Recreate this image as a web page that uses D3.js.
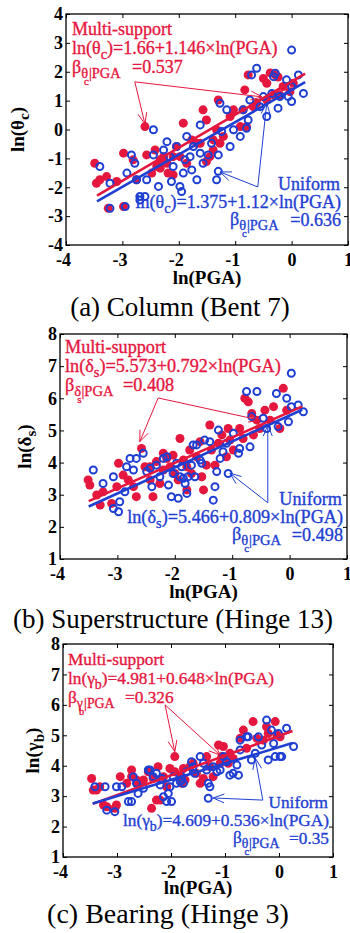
<!DOCTYPE html>
<html>
<head>
<meta charset="utf-8">
<script src="https://cdn.jsdelivr.net/npm/d3@7/dist/d3.min.js"></script>
<style>
  body { margin: 0; background: #fff; }
  svg { display: block; }
</style>
</head>
<body>
<div id="chart"></div>
<script>
// tick values
const xTicks = [-4, -3, -2, -1, 0, 1];
const yTicksA = [-4, -3, -2, -1, 0, 1, 2, 3, 4];
const yTicksB = [1, 2, 3, 4, 5, 6, 7, 8];
const yTicksC = [1, 2, 3, 4, 5, 6, 7, 8];

// (a) Column (Bent 7) : [ln(PGA), ln(theta_c)]
const multiA = [[-3.49,-1.17],[-3.46,-1.86],[-3.40,-1.74],[-3.28,-1.63],[-3.25,-2.73],[-2.98,-2.67],[-2.98,-0.82],[-3.10,-1.80],[-2.81,-1.05],[-2.75,-1.74],[-2.60,0.10],[-2.48,-1.51],[-2.42,-0.71],[-2.33,-1.34],[-2.27,-0.94],[-2.21,-1.17],[-2.19,-1.51],[-2.10,-0.94],[-2.04,-0.59],[-1.98,-0.94],[-1.92,0.22],[-1.86,-1.17],[-1.77,-0.36],[-1.68,-0.48],[-1.57,0.68],[-1.51,0.33],[-1.45,-0.94],[-1.39,-0.36],[-1.39,-0.71],[-1.33,-0.01],[-1.30,1.02],[-1.27,-0.48],[-1.21,-0.24],[-1.09,0.45],[-1.03,0.68],[-0.91,0.10],[-0.86,0.68],[-0.83,1.37],[-0.80,0.10],[-0.77,1.89],[-0.68,0.79],[-0.62,0.91],[-0.50,1.77],[-0.44,1.02],[-0.44,1.60],[-0.38,1.96],[-0.29,1.89],[-0.32,1.20],[-0.24,1.82],[-0.21,1.20],[-0.15,1.49],[-0.03,1.31],[0.03,1.60],[-1.51,-1.11],[-2.10,-1.57],[-2.33,-1.05],[-2.39,-1.28],[-2.57,-0.88],[-1.62,-0.48]];
const uniformA = [[-3.40,-1.28],[-3.22,-1.86],[-3.22,-2.73],[-2.95,-2.67],[-2.92,-1.51],[-2.84,-0.88],[-2.78,-1.17],[-2.75,-1.74],[-2.69,-2.32],[-2.57,-1.74],[-2.45,-0.01],[-2.45,-0.88],[-2.36,-1.97],[-2.27,-0.71],[-2.21,-0.42],[-2.16,-0.94],[-2.13,-1.80],[-2.10,-1.28],[-2.04,-0.59],[-1.98,-1.97],[-1.95,-2.15],[-1.92,-1.51],[-1.89,-1.05],[-1.86,-0.24],[-1.80,-0.94],[-1.77,-1.40],[-1.74,-0.59],[-1.68,-1.74],[-1.62,0.16],[-1.62,-0.82],[-1.57,-1.17],[-1.48,-0.88],[-1.42,-0.48],[-1.33,-1.74],[-1.30,-0.88],[-1.27,0.91],[-1.24,-0.07],[-1.15,0.68],[-1.09,-0.59],[-1.03,-0.01],[-0.91,-0.24],[-0.86,0.68],[-0.80,0.04],[-0.77,0.33],[-0.74,1.02],[-0.71,1.89],[-0.62,2.12],[-0.56,0.79],[-0.50,1.14],[-0.44,0.45],[-0.35,1.25],[-0.32,1.83],[-0.29,1.95],[-0.24,0.74],[-0.21,1.14],[-0.09,1.72],[-0.06,1.14],[0.00,1.49],[0.00,0.97],[0.00,2.75],[0.12,1.89],[0.21,1.25],[-2.69,-2.44],[-2.60,-2.32],[-1.30,-1.45]];
const fitMultiA = [1.66, 1.146];
const fitUniformA = [1.375, 1.12];
const fitRangeA = [-3.45, 0.24];
const betaA = [0.537, 0.636];

// (b) Superstructure (Hinge 13) : [ln(PGA), ln(delta_s)]
const multiB = [[-3.51,3.46],[-3.48,3.30],[-3.36,2.99],[-3.30,2.68],[-3.25,3.09],[-3.10,2.73],[-3.01,3.25],[-2.98,3.98],[-2.90,3.61],[-2.81,3.46],[-2.72,3.25],[-2.67,2.94],[-2.58,4.44],[-2.52,3.87],[-2.43,3.46],[-2.38,2.94],[-2.32,4.03],[-2.26,3.35],[-2.20,3.77],[-2.14,4.13],[-2.08,3.87],[-2.03,4.23],[-2.00,3.66],[-1.94,3.46],[-1.91,4.75],[-1.85,4.08],[-1.79,3.87],[-1.74,4.39],[-1.71,3.66],[-1.62,4.18],[-1.56,4.65],[-1.53,3.56],[-1.50,3.15],[-1.45,3.92],[-1.39,5.17],[-1.36,4.39],[-1.30,3.92],[-1.24,4.60],[-1.18,4.86],[-1.10,4.18],[-1.07,5.06],[-1.04,4.70],[-0.98,4.39],[-0.87,5.06],[-0.81,4.75],[-0.78,6.00],[-0.72,5.89],[-0.66,5.53],[-0.63,4.86],[-0.57,5.32],[-0.52,5.06],[-0.43,5.63],[-0.34,5.32],[-0.28,5.74],[-0.17,5.06],[-0.11,6.31],[-0.05,5.63],[-1.79,3.15],[-2.20,4.29],[-2.43,3.87]];
const uniformB = [[-3.42,3.77],[-3.25,3.35],[-3.07,3.56],[-3.07,2.57],[-2.98,2.47],[-2.96,2.78],[-2.87,3.09],[-2.84,3.87],[-2.78,4.13],[-2.72,3.77],[-2.67,4.13],[-2.55,4.29],[-2.49,3.72],[-2.43,3.82],[-2.40,3.25],[-2.32,3.92],[-2.26,3.56],[-2.20,4.13],[-2.14,4.18],[-2.11,3.30],[-2.06,2.94],[-2.03,3.66],[-1.97,3.98],[-1.94,2.89],[-1.91,3.56],[-1.88,3.87],[-1.85,3.51],[-1.82,3.35],[-1.79,3.04],[-1.77,3.56],[-1.71,3.92],[-1.68,4.55],[-1.65,3.56],[-1.62,4.55],[-1.56,4.08],[-1.53,3.98],[-1.48,4.70],[-1.39,4.65],[-1.33,2.83],[-1.30,3.25],[-1.27,3.72],[-1.24,5.01],[-1.21,4.13],[-1.16,4.34],[-1.10,4.60],[-1.07,3.66],[-0.98,4.91],[-0.89,4.29],[-0.87,4.44],[-0.75,6.21],[-0.69,4.49],[-0.66,5.43],[-0.57,6.21],[-0.46,5.38],[-0.40,5.06],[-0.23,6.15],[-0.20,5.12],[-0.05,6.00],[-0.02,5.27],[0.03,6.78],[0.03,5.74],[0.15,5.79],[0.24,5.58]];
const fitMultiB = [5.573, 0.792];
const fitUniformB = [5.466, 0.809];
const fitRangeB = [-3.5, 0.22];
const betaB = [0.408, 0.498];

// (c) Bearing (Hinge 3) : [ln(PGA), ln(gamma_b)]
const multiC = [[-3.47,3.58],[-3.44,3.20],[-3.38,3.20],[-3.32,3.31],[-3.25,2.71],[-3.19,2.65],[-3.04,2.60],[-3.01,2.71],[-2.94,3.64],[-2.82,3.42],[-2.73,3.86],[-2.64,3.53],[-2.61,3.37],[-2.51,3.53],[-2.42,3.80],[-2.36,2.60],[-2.33,3.58],[-2.27,2.87],[-2.24,3.97],[-2.14,3.64],[-2.08,3.31],[-2.02,3.91],[-1.93,4.30],[-1.93,3.80],[-1.83,3.64],[-1.77,3.91],[-1.74,3.53],[-1.65,3.97],[-1.59,4.08],[-1.53,3.75],[-1.46,3.42],[-1.40,3.58],[-1.34,4.30],[-1.28,3.97],[-1.22,3.64],[-1.12,4.68],[-1.09,4.08],[-1.06,4.30],[-1.03,4.63],[-0.94,4.08],[-0.91,4.41],[-0.85,4.24],[-0.72,4.90],[-0.66,5.17],[-0.60,4.57],[-0.48,5.45],[-0.41,4.90],[-0.29,4.84],[-0.23,5.28],[-0.20,5.06],[-0.07,5.45],[-0.04,5.01],[0.02,4.95],[-2.20,2.87],[-1.80,3.42],[-2.73,3.64]];
const uniformC = [[-3.41,3.31],[-3.22,3.31],[-3.19,2.54],[-3.04,2.49],[-3.01,3.31],[-2.91,3.31],[-2.79,2.82],[-2.73,2.82],[-2.70,3.64],[-2.64,3.42],[-2.61,3.09],[-2.51,3.26],[-2.42,3.86],[-2.39,3.86],[-2.33,3.64],[-2.27,3.75],[-2.20,3.37],[-2.17,3.58],[-2.14,2.98],[-2.08,2.82],[-2.05,3.09],[-2.02,3.31],[-1.99,2.82],[-1.96,3.64],[-1.90,3.42],[-1.83,3.48],[-1.80,3.53],[-1.77,3.42],[-1.71,3.80],[-1.62,4.13],[-1.59,3.97],[-1.56,3.75],[-1.46,4.30],[-1.40,4.08],[-1.34,3.86],[-1.31,3.42],[-1.28,3.31],[-1.22,3.97],[-1.15,3.80],[-1.09,3.86],[-1.03,4.30],[-0.97,4.13],[-0.91,3.69],[-0.85,3.75],[-0.78,4.02],[-0.75,3.69],[-0.72,4.52],[-0.72,4.84],[-0.60,4.95],[-0.57,4.95],[-0.51,4.19],[-0.44,4.41],[-0.38,4.95],[-0.32,4.68],[-0.23,5.50],[-0.20,4.19],[-0.14,5.17],[-0.10,4.73],[-0.07,4.30],[-0.01,5.06],[0.02,4.30],[0.05,4.30],[0.14,5.23],[0.27,4.63],[-1.31,2.93]];
const fitMultiC = [4.981, 0.648];
const fitUniformC = [4.609, 0.536];
const fitRangeC = [-3.45, 0.25];
const betaC = [0.326, 0.35];

const RED = '#e5173f';
const BLUE = '#1f3fd2';
const SERIF = '"Liberation Serif", "Times New Roman", serif';

const svg = d3
  .select('#chart')
  .append('svg')
  .attr('width', 350)
  .attr('height', 933)
  .style('font-family', SERIF);

// text made of pieces: level 0 normal, 1 subscript, 2 sub-subscript
function richText(g, x, y, parts, size, color, anchor) {
  const t = g
    .append('text')
    .attr('x', x)
    .attr('y', y)
    .attr('fill', color)
    .attr('text-anchor', anchor || 'start')
    .style('font-size', size + 'px');
  let level = 0;
  parts.forEach((p) => {
    const [txt, lv, dx] = p;
    const shift = { 0: 0, 1: 5, 2: 12 };
    const sz = { 0: size, 1: size * 0.8, 2: size * 0.6 };
    t.append('tspan')
      .attr('dy', shift[lv] - shift[level])
      .attr('dx', dx || 0)
      .style('font-size', sz[lv] + 'px')
      .text(txt);
    level = lv;
  });
  return t;
}

// annotation text gets a thin outline so it reads as heavy as the scan
function heavy(t, color) {
  return t.attr('stroke', color).attr('stroke-width', 0.35);
}

function arrow(g, x, y, from, to, color) {
  const x0 = x(from[0]), y0 = y(from[1]);
  const x1 = x(to[0]), y1 = y(to[1]);
  const ang = Math.atan2(y1 - y0, x1 - x0);
  const len = 12, spread = 0.38;
  const path = d3.path();
  path.moveTo(x0, y0);
  path.lineTo(x1, y1);
  path.moveTo(x1 - len * Math.cos(ang - spread), y1 - len * Math.sin(ang - spread));
  path.lineTo(x1, y1);
  path.lineTo(x1 - len * Math.cos(ang + spread), y1 - len * Math.sin(ang + spread));
  g.append('path').attr('d', path.toString()).attr('fill', 'none').attr('stroke', color).attr('stroke-width', 1);
}

function drawPanel(p) {
  const x = d3.scaleLinear().domain([-4, 1]).range([p.box.left, p.box.right]);
  const y = d3.scaleLinear().domain(p.yDomain).range([p.box.bottom, p.box.top]);
  const g = svg.append('g');

  // markers
  g.selectAll('circle.multi')
    .data(p.multi)
    .join('circle')
    .attr('class', 'multi')
    .attr('cx', (d) => x(d[0]))
    .attr('cy', (d) => y(d[1]))
    .attr('r', 4.5)
    .attr('fill', RED);

  g.selectAll('circle.uniform')
    .data(p.uniform)
    .join('circle')
    .attr('class', 'uniform')
    .attr('cx', (d) => x(d[0]))
    .attr('cy', (d) => y(d[1]))
    .attr('r', 3.5)
    .attr('fill', 'none')
    .attr('stroke', BLUE)
    .attr('stroke-width', 2);

  // regression lines
  [[p.fitMulti, RED], [p.fitUniform, BLUE]].forEach(([c, col]) => {
    const line = d3.line().x((d) => x(d)).y((d) => y(c[0] + c[1] * d));
    g.append('path').datum(p.fitRange).attr('d', line).attr('fill', 'none').attr('stroke', col).attr('stroke-width', 2.6);
  });

  // axes with inward ticks
  const fmt = (d) => (d < 0 ? '-' + Math.abs(d) : String(d));
  const bottom = g.append('g').attr('transform', `translate(0,${p.box.bottom})`)
    .call(d3.axisBottom(x).tickValues(xTicks).tickSize(-4).tickSizeOuter(0).tickPadding(8).tickFormat(fmt));
  bottom.selectAll('text').attr('text-anchor', 'end').attr('dx', '0.25em').attr('dy', '0.72em');
  const left = g.append('g').attr('transform', `translate(${p.box.left},0)`)
    .call(d3.axisLeft(y).tickValues(p.yTicks).tickSize(-4).tickSizeOuter(0).tickPadding(3).tickFormat(fmt));
  g.append('g').attr('transform', `translate(0,${p.box.top})`)
    .call(d3.axisTop(x).tickValues(xTicks).tickSize(-4).tickSizeOuter(0).tickFormat(''));
  g.append('g').attr('transform', `translate(${p.box.right},0)`)
    .call(d3.axisRight(y).tickValues(p.yTicks).tickSize(-4).tickSizeOuter(0).tickFormat(''));
  g.selectAll('.domain').remove();
  g.selectAll('.tick line').attr('stroke', '#000').attr('stroke-width', 1);
  [bottom, left].forEach((a) =>
    a.selectAll('text').attr('fill', '#000').style('font-family', SERIF).style('font-size', '18px').style('font-weight', 'bold')
  );

  g.append('rect')
    .attr('x', p.box.left)
    .attr('y', p.box.top)
    .attr('width', p.box.right - p.box.left)
    .attr('height', p.box.bottom - p.box.top)
    .attr('fill', 'none')
    .attr('stroke', '#000')
    .attr('stroke-width', 1.3);

  // axis titles
  g.append('text')
    .attr('x', (p.box.left + p.box.right) / 2)
    .attr('y', p.box.bottom + p.xTitleDy)
    .attr('text-anchor', 'middle')
    .style('font-size', '19px')
    .style('font-weight', 'bold')
    .text('ln(PGA)');
  richText(g, 0, 0, [['ln(' + p.sym, 0], [p.sub, 1], [')', 0]], 19, '#000', 'middle')
    .style('font-weight', 'bold')
    .attr('transform', `translate(${p.yTitleX},${(p.box.top + p.box.bottom) / 2}) rotate(-90)`);

  // multi-support annotation
  const a = p.ann, fs = p.annSize;
  heavy(richText(g, a.mx, a.my, [['Multi-support', 0]], fs, RED), RED);
  heavy(richText(g, a.mx, a.my + 19, [['ln(' + p.sym, 0], [p.sub, 1], [`)=${p.fitMulti[0]}+${p.fitMulti[1]}×ln(PGA)`, 0]], fs, RED), RED);
  heavy(richText(g, a.mx, a.my + 38, [['β', 0], [p.betaSym, 1], [p.sub, 2, -4], ['|PGA', 1]], fs, RED), RED);
  heavy(richText(g, a.mEqX, a.my + 38, [['=' + p.beta[0], 0]], fs, RED), RED);

  // uniform annotation
  heavy(richText(g, a.ux, a.uy, [['Uniform', 0]], fs, BLUE, 'end'), BLUE);
  heavy(richText(g, a.ux + 1, a.uy + 18, [['ln(' + p.sym, 0], [p.sub, 1], [`)=${p.fitUniform[0]}+${p.fitUniform[1]}×ln(PGA)`, 0]], fs, BLUE, 'end'), BLUE);
  heavy(richText(g, a.uBx, a.uy + 35, [['β', 0], ['θ', 1], ['c', 2, -4], ['|PGA', 1]], fs, BLUE), BLUE);
  heavy(richText(g, a.ux + 1, a.uy + 36, [['=' + p.beta[1], 0]], fs, BLUE, 'end'), BLUE);

  // arrows
  p.redArrows.forEach((t) => arrow(g, x, y, p.redVertex, t, RED));
  p.blueArrows.forEach((t) => arrow(g, x, y, p.blueVertex, t, BLUE));

  // caption
  g.append('text')
    .attr('x', p.caption.x)
    .attr('y', p.caption.y)
    .attr('text-anchor', 'middle')
    .style('font-size', p.caption.size + 'px')
    .text(p.caption.text);
}

drawPanel({
  box: { left: 66, right: 348, top: 14, bottom: 245 },
  yDomain: [-4, 4], yTicks: yTicksA,
  multi: multiA, uniform: uniformA,
  fitMulti: fitMultiA, fitUniform: fitUniformA, fitRange: fitRangeA, beta: betaA,
  sym: 'θ', sub: 'c', betaSym: 'θ',
  xTitleDy: 39, yTitleX: 24,
  annSize: 18, ann: { mx: 72, my: 35, mEqX: 132, ux: 340, uy: 190, uBx: 230 },
  redVertex: [-2.78, 1.65], redArrows: [[-2.6, 0.19], [-0.525, 1.13]],
  blueVertex: [-0.6, -1.99], blueArrows: [[-1.27, -1.47], [-0.44, 0.92]],
  caption: { x: 180, y: 316, size: 27, text: '(a) Column (Bent 7)' }
});

drawPanel({
  box: { left: 60, right: 347, top: 334, bottom: 559 },
  yDomain: [1, 8], yTicks: yTicksB,
  multi: multiB, uniform: uniformB,
  fitMulti: fitMultiB, fitUniform: fitUniformB, fitRange: fitRangeB, beta: betaB,
  sym: 'δ', sub: 's', betaSym: 'δ',
  xTitleDy: 39, yTitleX: 31,
  annSize: 18.2, ann: { mx: 65, my: 353, mEqX: 123, ux: 342, uy: 505, uBx: 232 },
  redVertex: [-2.29, 6.01], redArrows: [[-2.61, 4.65], [-0.52, 5.32]],
  blueVertex: [-0.38, 2.75], blueArrows: [[-1.04, 3.67], [-0.38, 5.17]],
  caption: { x: 173, y: 628, size: 27, text: '(b) Superstructure (Hinge 13)' }
});

drawPanel({
  box: { left: 63, right: 333, top: 644, bottom: 857 },
  yDomain: [1, 8], yTicks: yTicksC,
  multi: multiC, uniform: uniformC,
  fitMulti: fitMultiC, fitUniform: fitUniformC, fitRange: fitRangeC, beta: betaC,
  sym: 'γ', sub: 'b', betaSym: 'γ',
  xTitleDy: 37, yTitleX: 39,
  annSize: 17.3, ann: { mx: 68, my: 665, mEqX: 125, ux: 328, uy: 808, uBx: 233 },
  redVertex: [-2.11, 6.0], redArrows: [[-1.93, 4.46], [-1.09, 4.35]],
  blueVertex: [-0.3, 2.87], blueArrows: [[-1.22, 2.94], [-0.44, 4.25]],
  caption: { x: 168, y: 923, size: 28, text: '(c) Bearing (Hinge 3)' }
});
</script>
</body>
</html>
